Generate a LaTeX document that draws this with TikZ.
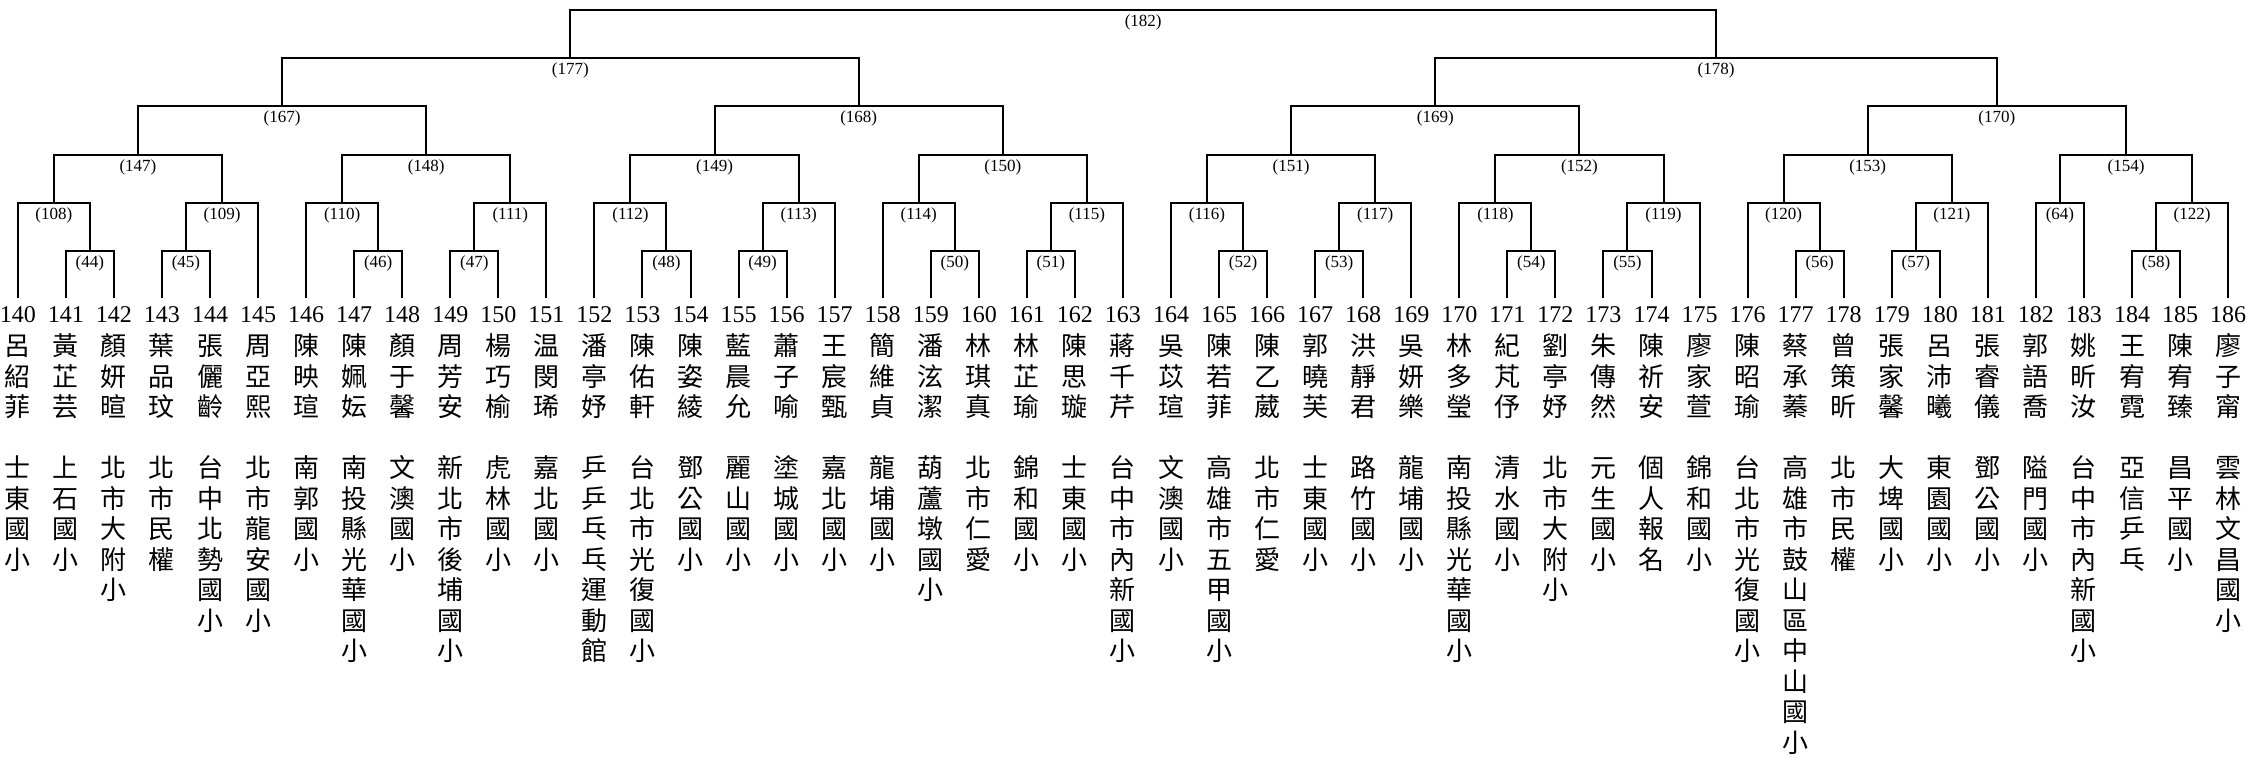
\documentclass[tikz,border=0pt]{standalone}
\usepackage{fontspec}
\setmainfont{Liberation Serif}
\newfontfamily\cjk{Noto Sans CJK TC}
\usetikzlibrary{calc}
\tikzset{
  bline/.style={line width=2pt, black},
  blabel/.style={font=\fontsize{17}{17}\selectfont, inner sep=0pt},
  numtxt/.style={font=\fontsize{24}{24}\selectfont, inner sep=0pt},
  cjktxt/.style={font=\cjk\fontsize{26}{26}\selectfont, inner sep=0pt, text height=22.9pt, text depth=3.1pt},
}
\newcommand\player[3]{%
  \coordinate (l#1) at ({17.8+48.05*(#1-140)}, -298);
  \node[numtxt] (num#1) at ({17.8+48.05*(#1-140)}, -314.7) {#1};
  \foreach \c [count=\i] in {#2} \node[cjktxt] (nm#1-\i) at ({17.8+48.05*(#1-140)}, {-346-30.5*(\i-1)}) {\c};
  \foreach \c [count=\i] in {#3} \node[cjktxt] (sc#1-\i) at ({17.8+48.05*(#1-140)}, {-467.6-30.5*(\i-1)}) {\c};
}
\newcommand\brk[5]{%
  \path let \p1=(#2), \p2=(#3) in ({(\x1+\x2)/2},{-#4pt}) coordinate (#1);
  \draw[bline] (#2) |- (#1) -| (#3);
  \node[blabel] (lab#1) at ([yshift=-12.5pt]#1) {(#5)};
}
\begin{document}
\begin{tikzpicture}[x=1pt,y=1pt]
\path[fill=white, use as bounding box] (0,0) rectangle (2246,-767);
\player{140}{呂,紹,菲}{士,東,國,小}
\player{141}{黃,芷,芸}{上,石,國,小}
\player{142}{顏,妍,暄}{北,市,大,附,小}
\player{143}{葉,品,玟}{北,市,民,權}
\player{144}{張,儷,齡}{台,中,北,勢,國,小}
\player{145}{周,亞,熙}{北,市,龍,安,國,小}
\player{146}{陳,映,瑄}{南,郭,國,小}
\player{147}{陳,姵,妘}{南,投,縣,光,華,國,小}
\player{148}{顏,于,馨}{文,澳,國,小}
\player{149}{周,芳,安}{新,北,市,後,埔,國,小}
\player{150}{楊,巧,榆}{虎,林,國,小}
\player{151}{温,閔,琋}{嘉,北,國,小}
\player{152}{潘,亭,妤}{乒,乒,乓,乓,運,動,館}
\player{153}{陳,佑,軒}{台,北,市,光,復,國,小}
\player{154}{陳,姿,綾}{鄧,公,國,小}
\player{155}{藍,晨,允}{麗,山,國,小}
\player{156}{蕭,子,喻}{塗,城,國,小}
\player{157}{王,宸,甄}{嘉,北,國,小}
\player{158}{簡,維,貞}{龍,埔,國,小}
\player{159}{潘,泫,潔}{葫,蘆,墩,國,小}
\player{160}{林,琪,真}{北,市,仁,愛}
\player{161}{林,芷,瑜}{錦,和,國,小}
\player{162}{陳,思,璇}{士,東,國,小}
\player{163}{蔣,千,芹}{台,中,市,內,新,國,小}
\player{164}{吳,苡,瑄}{文,澳,國,小}
\player{165}{陳,若,菲}{高,雄,市,五,甲,國,小}
\player{166}{陳,乙,葳}{北,市,仁,愛}
\player{167}{郭,曉,芙}{士,東,國,小}
\player{168}{洪,靜,君}{路,竹,國,小}
\player{169}{吳,妍,樂}{龍,埔,國,小}
\player{170}{林,多,瑩}{南,投,縣,光,華,國,小}
\player{171}{紀,芃,伃}{清,水,國,小}
\player{172}{劉,亭,妤}{北,市,大,附,小}
\player{173}{朱,傳,然}{元,生,國,小}
\player{174}{陳,祈,安}{個,人,報,名}
\player{175}{廖,家,萱}{錦,和,國,小}
\player{176}{陳,昭,瑜}{台,北,市,光,復,國,小}
\player{177}{蔡,承,蓁}{高,雄,市,鼓,山,區,中,山,國,小}
\player{178}{曾,策,昕}{北,市,民,權}
\player{179}{張,家,馨}{大,埤,國,小}
\player{180}{呂,沛,曦}{東,園,國,小}
\player{181}{張,睿,儀}{鄧,公,國,小}
\player{182}{郭,語,喬}{隘,門,國,小}
\player{183}{姚,昕,汝}{台,中,市,內,新,國,小}
\player{184}{王,宥,霓}{亞,信,乒,乓}
\player{185}{陳,宥,臻}{昌,平,國,小}
\player{186}{廖,子,甯}{雲,林,文,昌,國,小}
\brk{b44}{l141}{l142}{251}{44}
\brk{b108}{l140}{b44}{202.8}{108}
\brk{b45}{l143}{l144}{251}{45}
\brk{b109}{b45}{l145}{202.8}{109}
\brk{b147}{b108}{b109}{154.6}{147}
\brk{b46}{l147}{l148}{251}{46}
\brk{b110}{l146}{b46}{202.8}{110}
\brk{b47}{l149}{l150}{251}{47}
\brk{b111}{b47}{l151}{202.8}{111}
\brk{b148}{b110}{b111}{154.6}{148}
\brk{b48}{l153}{l154}{251}{48}
\brk{b112}{l152}{b48}{202.8}{112}
\brk{b49}{l155}{l156}{251}{49}
\brk{b113}{b49}{l157}{202.8}{113}
\brk{b149}{b112}{b113}{154.6}{149}
\brk{b50}{l159}{l160}{251}{50}
\brk{b114}{l158}{b50}{202.8}{114}
\brk{b51}{l161}{l162}{251}{51}
\brk{b115}{b51}{l163}{202.8}{115}
\brk{b150}{b114}{b115}{154.6}{150}
\brk{b52}{l165}{l166}{251}{52}
\brk{b116}{l164}{b52}{202.8}{116}
\brk{b53}{l167}{l168}{251}{53}
\brk{b117}{b53}{l169}{202.8}{117}
\brk{b151}{b116}{b117}{154.6}{151}
\brk{b54}{l171}{l172}{251}{54}
\brk{b118}{l170}{b54}{202.8}{118}
\brk{b55}{l173}{l174}{251}{55}
\brk{b119}{b55}{l175}{202.8}{119}
\brk{b152}{b118}{b119}{154.6}{152}
\brk{b56}{l177}{l178}{251}{56}
\brk{b120}{l176}{b56}{202.8}{120}
\brk{b57}{l179}{l180}{251}{57}
\brk{b121}{b57}{l181}{202.8}{121}
\brk{b153}{b120}{b121}{154.6}{153}
\brk{b64}{l182}{l183}{202.8}{64}
\brk{b58}{l184}{l185}{251}{58}
\brk{b122}{b58}{l186}{202.8}{122}
\brk{b154}{b64}{b122}{154.6}{154}
\brk{b167}{b147}{b148}{106.4}{167}
\brk{b168}{b149}{b150}{106.4}{168}
\brk{b169}{b151}{b152}{106.4}{169}
\brk{b170}{b153}{b154}{106.4}{170}
\brk{b177}{b167}{b168}{58.2}{177}
\brk{b178}{b169}{b170}{58.2}{178}
\brk{b182}{b177}{b178}{10}{182}
\end{tikzpicture}
\end{document}
